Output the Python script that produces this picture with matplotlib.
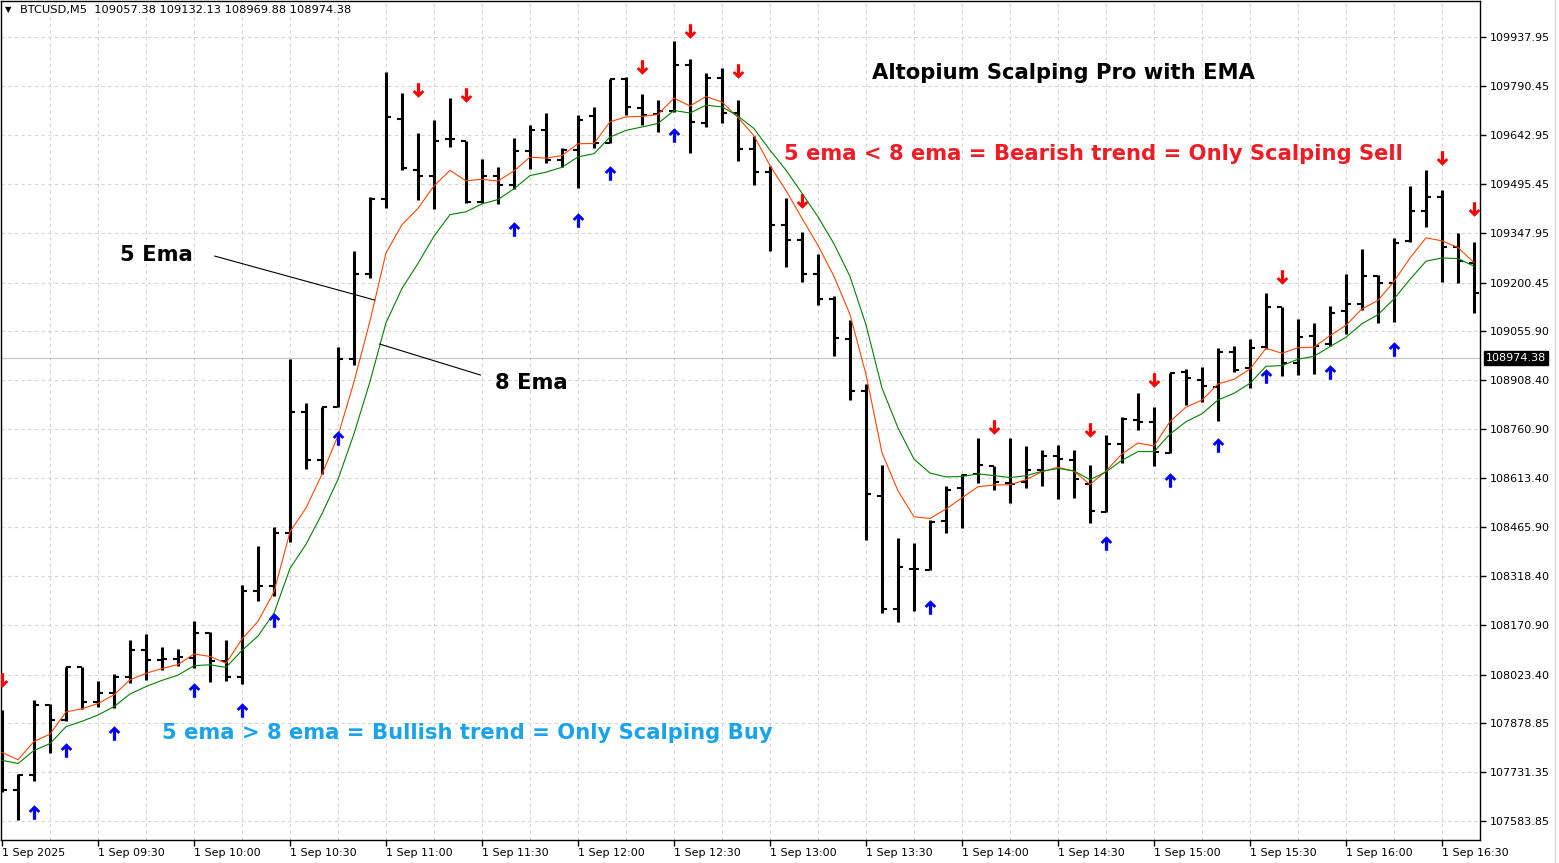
import matplotlib
matplotlib.use("Agg")
import matplotlib.pyplot as plt
from matplotlib.path import Path
import matplotlib.transforms as mtransforms

# ---------------- data (BTCUSD, M5, 1 Sep 2025) ----------------
opens = [107828, 107676, 107723, 107933, 107888, 108045, 107940, 107968, 108015, 108098,
         108066, 108071, 108074, 108149, 108063, 108017, 108275, 108290, 108449, 108812,
         108668, 108827, 108972, 109226, 109451, 109691, 109538, 109521, 109631, 109626,
         109443, 109520, 109495, 109596, 109660, 109568, 109598, 109700, 109620, 109813,
         109726, 109706, 109716, 109853, 109680, 109816, 109710, 109603, 109532, 109372,
         109328, 109226, 109150, 109031, 108876, 108560, 108221, 108342, 108338, 108485,
         108583, 108626, 108651, 108599, 108603, 108639, 108681, 108669, 108595, 108512,
         108715, 108788, 108783, 108690, 108933, 108908, 108888, 108993, 108943, 109006,
         109128, 108960, 109040, 109016, 109116, 109135, 109220, 109198, 109325, 109416,
         109456, 109308, 109260]
highs = [107918, 107726, 107948, 107936, 108045, 108045, 108005, 108026, 108128, 108146,
         108107, 108101, 108183, 108150, 108128, 108293, 108410, 108467, 108972, 108840,
         108828, 109006, 109295, 109457, 109833, 109770, 109649, 109688, 109754, 109626,
         109571, 109548, 109634, 109673, 109709, 109604, 109703, 109727, 109813, 109818,
         109766, 109750, 109926, 109873, 109830, 109846, 109750, 109642, 109552, 109454,
         109352, 109286, 109160, 109087, 108895, 108654, 108435, 108420, 108488, 108589,
         108625, 108734, 108651, 108734, 108710, 108698, 108713, 108698, 108654, 108743,
         108796, 108870, 108826, 108930, 108940, 108946, 109003, 109010, 109030, 109170,
         109128, 109091, 109080, 109130, 109225, 109300, 109223, 109333, 109490, 109538,
         109478, 109348, 109323]
lows = [107672, 107588, 107703, 107789, 107883, 107921, 107927, 107924, 107999, 108006,
        108038, 108048, 108044, 108000, 108005, 107995, 108245, 108260, 108422, 108642,
        108627, 108828, 108953, 109214, 109424, 109538, 109448, 109421, 109607, 109440,
        109439, 109435, 109481, 109541, 109560, 109547, 109486, 109604, 109620, 109703,
        109673, 109653, 109713, 109590, 109668, 109680, 109566, 109493, 109295, 109247,
        109203, 109134, 108980, 108848, 108429, 108209, 108180, 108215, 108338, 108449,
        108464, 108599, 108579, 108539, 108583, 108589, 108551, 108553, 108480, 108512,
        108660, 108758, 108650, 108690, 108833, 108843, 108786, 108933, 108883, 109000,
        108920, 108923, 108925, 109010, 109046, 109118, 109080, 109083, 109323, 109368,
        109203, 109198, 109110]
closes = [107676, 107723, 107933, 107888, 108045, 107940, 107968, 108015, 108098, 108066,
          108071, 108077, 108149, 108063, 108017, 108275, 108290, 108449, 108812, 108668,
          108827, 108972, 109226, 109451, 109698, 109544, 109521, 109626, 109631, 109443,
          109520, 109495, 109596, 109660, 109568, 109598, 109688, 109620, 109813, 109728,
          109703, 109716, 109853, 109683, 109816, 109710, 109603, 109532, 109372, 109328,
          109226, 109150, 109033, 108876, 108565, 108219, 108346, 108342, 108482, 108577,
          108622, 108654, 108603, 108595, 108639, 108681, 108672, 108610, 108515, 108715,
          108790, 108783, 108693, 108930, 108913, 108890, 108993, 108938, 109003, 109128,
          108958, 109038, 109010, 109110, 109135, 109220, 109198, 109318, 109415, 109456,
          109308, 109266, 109170]

# EMA values at the first visible bar (carried over from earlier history)
ema5_start = 107790
ema8_start = 107766

# buy / sell signal arrows: bar index and price
buy_bars = [2, 4, 7, 12, 15, 17, 21, 32, 36, 38, 42, 58, 69, 73, 76, 79, 83, 87]
buy_prices = [107612, 107798, 107849, 107978, 107918, 108188, 108734, 109361, 109388,
              109529, 109643, 108227, 108419, 108608, 108713, 108920, 108932, 109001]
sell_bars = [0, 26, 29, 40, 43, 46, 50, 62, 68, 72, 80, 90, 92]
sell_prices = [108008, 109778, 109763, 109847, 109955, 109835, 109445, 108767, 108758,
               108908, 109217, 109574, 109421]

time_labels = ["1 Sep 2025", "1 Sep 09:30", "1 Sep 10:00", "1 Sep 10:30", "1 Sep 11:00",
               "1 Sep 11:30", "1 Sep 12:00", "1 Sep 12:30", "1 Sep 13:00", "1 Sep 13:30",
               "1 Sep 14:00", "1 Sep 14:30", "1 Sep 15:00", "1 Sep 15:30", "1 Sep 16:00",
               "1 Sep 16:30"]
price_labels = [109937.95, 109790.45, 109642.95, 109495.45, 109347.95, 109200.45,
                109055.90, 108908.40, 108760.90, 108613.40, 108465.90, 108318.40,
                108170.90, 108023.40, 107878.85, 107731.35, 107583.85]
current_price = 108974.38
header = "BTCUSD,M5  109057.38 109132.13 108969.88 108974.38"

# ---------------- EMA computation ----------------
def ema(values, period, start):
    k = 2.0 / (period + 1)
    out = [start]
    for v in values[1:]:
        out.append(out[-1] + k * (v - out[-1]))
    return out

ema5 = ema(closes, 5, ema5_start)
ema8 = ema(closes, 8, ema8_start)

# ---------------- figure ----------------
W, H = 1559, 863
fig = plt.figure(figsize=(W / 100, H / 100), dpi=100)
fig.patch.set_facecolor("white")
ax = fig.add_axes([1 / W, 23 / H, 1479 / W, 839 / H])
n = len(closes)
idx = list(range(n))
ax.set_xlim(-0.0625, 92.375)
ax.set_ylim(107526.8, 110046.0)

# grid
for p in price_labels:
    ax.axhline(p, color="#d4d4d4", lw=0.8, ls=(0, (3, 3)), zorder=0)
for b in range(3, n, 3):
    ax.axvline(b, color="#d4d4d4", lw=0.8, ls=(0, (3, 3)), zorder=0)

# current price line
ax.axhline(current_price, color="#c8c8c8", lw=0.9, zorder=1)

# OHLC bars
ax.vlines(idx, lows, highs, color="black", lw=2.2, zorder=3)
ax.hlines(opens, [i - 0.31 for i in idx], idx, color="black", lw=1.5, zorder=3)
ax.hlines(closes, idx, [i + 0.31 for i in idx], color="black", lw=1.5, zorder=3)

# EMAs
ax.plot(idx, ema5, color="#ff4500", lw=0.8, zorder=4)
ax.plot(idx, ema8, color="#008000", lw=0.8, zorder=4)

# arrows
up_verts = [(0, 1), (0.8, 0.2), (0.52, -0.06), (0.22, 0.24), (0.22, -1), (-0.22, -1),
            (-0.22, 0.24), (-0.52, -0.06), (-0.8, 0.2), (0, 1)]
codes = [Path.MOVETO] + [Path.LINETO] * 8 + [Path.CLOSEPOLY]
up_arrow = Path(up_verts, codes)
down_arrow = Path([(x, -y) for x, y in up_verts], codes)
ax.plot(buy_bars, buy_prices, ls="none", marker=up_arrow, markersize=10.5,
        color="#0000ff", markeredgewidth=0, zorder=5)
ax.plot(sell_bars, sell_prices, ls="none", marker=down_arrow, markersize=10.5,
        color="#ff0000", markeredgewidth=0, zorder=5)

# annotations
bold = dict(fontfamily="DejaVu Sans", fontweight="bold", fontsize=15.2, va="center",
            ha="left", zorder=6)
ax.text(54.4, 109829, "Altopium Scalping Pro with EMA", color="black", **bold)
ax.text(48.9, 109586, "5 ema < 8 ema = Bearish trend = Only Scalping Sell",
        color="#ee1c25", **bold)
ax.text(10.0, 107849, "5 ema > 8 ema = Bullish trend = Only Scalping Buy",
        color="#1aa3e8", **bold)
ax.text(7.4, 109283, "5 Ema", color="black", **bold)
ax.text(30.8, 108899, "8 Ema", color="black", **bold)
ax.plot([13.3, 23.3], [109280, 109148], color="black", lw=0.8, zorder=6)
ax.plot([23.6, 29.9], [109016, 108923], color="black", lw=0.8, zorder=6)

# axes styling
for s in ax.spines.values():
    s.set_color("black")
    s.set_linewidth(1.0)
ax.yaxis.tick_right()
ax.set_yticks(price_labels)
ax.set_yticklabels([f"{p:.2f}" for p in price_labels])
ax.set_xticks(list(range(0, n, 6)))
ax.set_xticklabels(time_labels, ha="left")
ax.tick_params(axis="y", length=4, width=1, pad=3, labelsize=8, colors="black")
ax.tick_params(axis="x", length=4, width=1, pad=2, labelsize=8, colors="black")

# current price tag
trans = mtransforms.blended_transform_factory(ax.transAxes, ax.transData)
ax.text(1.0 + 6 / 1479, current_price, f"{current_price:.2f}", transform=trans,
        color="white", fontsize=8, va="center", ha="left", zorder=10, clip_on=False,
        bbox=dict(boxstyle="square,pad=0.15", fc="black", ec="black"))

# header
fig.text(5 / W, 1 - 10 / H, "\u25bc", fontsize=6, va="center", ha="left", color="black")
fig.text(20 / W, 1 - 10 / H, header, fontsize=8.2, va="center", ha="left", color="black")

# window edge line
fig.add_artist(plt.Line2D([1555 / W, 1555 / W], [0, 1], color="#d8d8d8", lw=1,
                          transform=fig.transFigure))

fig.savefig("out.png", dpi=100, facecolor="white")
